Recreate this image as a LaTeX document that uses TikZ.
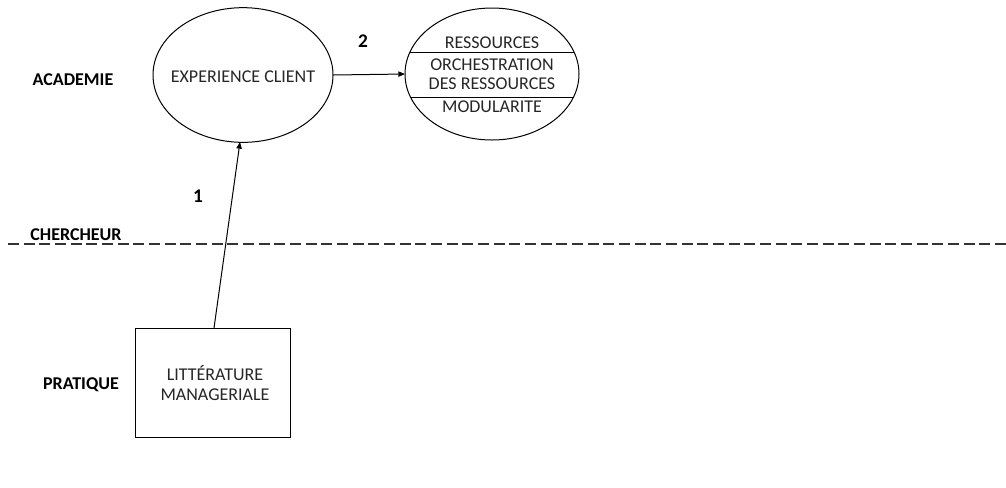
\documentclass[tikz,border=0pt]{standalone}
\usepackage{fontspec}
\setmainfont{Carlito}
\usetikzlibrary{shapes.geometric,arrows.meta}
\begin{document}
\begin{tikzpicture}[x=0.75pt,y=-0.75pt,
  every node/.style={font=\fontsize{13.5}{16}\selectfont, text=black!85},
  lbl/.style={font=\fontsize{13.5}{16}\selectfont\bfseries, text=black},
  oval/.style={draw, ellipse, line width=0.75pt, inner sep=0pt, outer sep=0pt},
  conn/.style={line width=0.75pt, -{Triangle[length=5pt,width=4pt]}}]
\useasboundingbox (0,0) rectangle (1006,487);
% ellipses
\node[oval, minimum width=135pt, minimum height=101pt] (exp) at (243,75) {};
\node at (243,77) {EXPERIENCE CLIENT};
\node[oval, minimum width=130.5pt, minimum height=99pt] (res) at (492,74) {};
\coordinate (r1l) at (410,52); \coordinate (r1r) at (574,52);
\coordinate (r2l) at (410,97); \coordinate (r2r) at (574,97);
\draw[line width=0.75pt] (r1l) -- (r1r);
\draw[line width=0.75pt] (r2l) -- (r2r);
\node (t1) at (492,43) {RESSOURCES};
\node (t2) at (492,65) {ORCHESTRATION};
\node (t3) at (492,84) {DES RESSOURCES};
\node (t4) at (492,107) {MODULARITE};
% box
\node[draw, line width=0.75pt, minimum width=116.25pt, minimum height=81.75pt, inner sep=0pt, outer sep=0pt] (lit) at (212.5,382.5) {};
\node[align=center, font=\fontsize{13.5}{14.5}\selectfont] at (215,383) {LITTÉRATURE\\MANAGERIALE};
% side labels
\node[lbl] (aca) at (73,80) {ACADEMIE};
\node[lbl] (che) at (76,235) {CHERCHEUR};
\node[lbl] (pra) at (81,385) {PRATIQUE};
% numbers
\node[lbl, font=\fontsize{14.5}{16}\selectfont\bfseries] (n2) at (363,41) {2};
\node[lbl, font=\fontsize{14.5}{16}\selectfont\bfseries] (n1) at (198,196) {1};
% dashed line
\coordinate (dl) at (8,244); \coordinate (dr) at (1006,244);
\draw[line width=1.1pt, dash pattern=on 8.25pt off 3.5pt, black!80] (dl) -- (dr);
% connectors
\draw[conn] (exp.east) -- (res.west);
\coordinate (bt) at (214,328);
\coordinate (et) at (240,142);
\draw[conn] (bt) -- (et);
\end{tikzpicture}
\end{document}
